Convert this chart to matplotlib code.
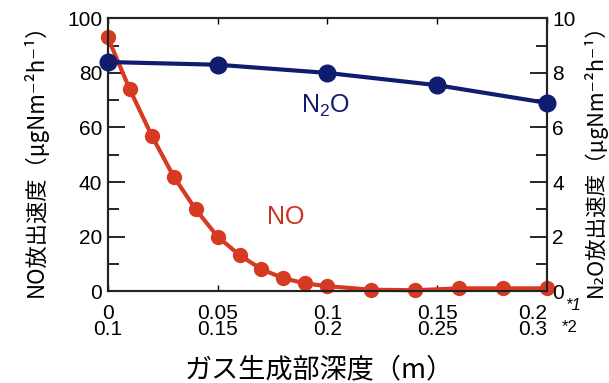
import matplotlib
matplotlib.use('Agg')
import matplotlib.pyplot as plt
from matplotlib.ticker import MultipleLocator
from matplotlib.transforms import ScaledTranslation

plt.rcParams['font.family'] = ['Liberation Sans', 'Noto Sans CJK JP', 'DejaVu Sans']
plt.rcParams['mathtext.fontset'] = 'custom'
plt.rcParams['mathtext.rm'] = 'Liberation Sans'
plt.rcParams['mathtext.it'] = 'Liberation Sans:italic'

# NO emission vs depth (left axis)
no_depth = [0, 0.01, 0.02, 0.03, 0.04, 0.05, 0.06, 0.07, 0.08, 0.09, 0.10,
            0.12, 0.14, 0.16, 0.18, 0.20]
no_rate = [93, 74, 57, 42, 30, 20, 13.2, 8, 4.7, 2.8, 1.8,
           0.5, 0.3, 1.0, 1.0, 1.0]

# N2O emission vs depth (right axis)
n2o_depth = [0, 0.05, 0.10, 0.15, 0.20]
n2o_rate = [8.4, 8.3, 8.0, 7.55, 6.9]

xtick_pos = [0, 0.05, 0.10, 0.15, 0.20]
xtick_labels = ['0\n0.1', '0.05\n0.15', '0.1\n0.2', '0.15\n0.25', '0.2\n0.3']

red = '#d63a22'
navy = '#101c6e'
cjk = ['Noto Sans CJK JP', 'DejaVu Sans']

fig = plt.figure(figsize=(6.09, 3.83), dpi=100)
ax = fig.add_axes([0.177, 0.240, 0.721, 0.712])
ax2 = ax.twinx()

ax.plot(no_depth, no_rate, '-o', color=red, lw=3, ms=10, clip_on=False, zorder=3)
ax2.plot(n2o_depth, n2o_rate, '-o', color=navy, lw=3, ms=12, clip_on=False, zorder=3)

ax.set_xlim(0, 0.2)
ax.set_ylim(0, 100)
ax2.set_ylim(0, 10)

ax.set_xticks(xtick_pos)
ax.set_xticklabels(xtick_labels, fontsize=15, linespacing=0.85)
# last label sits left of its tick, the footnote marks follow it
last = ax.get_xticklabels()[-1]
last.set_horizontalalignment('right')
last.set_transform(last.get_transform() + ScaledTranslation(4 / 72, 0, fig.dpi_scale_trans))

ax.yaxis.set_major_locator(MultipleLocator(20))
ax.yaxis.set_minor_locator(MultipleLocator(10))
ax2.yaxis.set_major_locator(MultipleLocator(2))
ax2.yaxis.set_minor_locator(MultipleLocator(1))

ax.tick_params(axis='y', which='major', direction='in', length=12, width=1.2, labelsize=15, pad=4)
ax.tick_params(axis='y', which='minor', direction='in', length=8, width=1.2)
ax2.tick_params(axis='y', which='major', direction='in', length=12, width=1.2, labelsize=15, pad=4)
ax2.tick_params(axis='y', which='minor', direction='in', length=8, width=1.2)
ax.tick_params(axis='x', direction='in', length=4, width=1.0, top=True, labelsize=15, pad=9)

for a in (ax, ax2):
    for s in a.spines.values():
        s.set_linewidth(1.5)
        s.set_color('#222222')

ax.set_ylabel('NO放出速度（μgNm⁻²h⁻¹）', fontsize=16, family=cjk, labelpad=14)
ax2.set_ylabel('N₂O放出速度（μgNm⁻²h⁻¹）', fontsize=15.5, family=cjk, labelpad=5)
ax.set_xlabel('ガス生成部深度（m）', fontsize=19.5, family=cjk)
ax.xaxis.set_label_coords(0.482, -0.24)

ax.text(0.099, 68, 'N$_2$O', color=navy, fontsize=18, ha='center', va='center')
ax.text(0.081, 27, 'NO', color='#c8341f', fontsize=18, ha='center', va='center')

fig.text(0.928, 0.202, '*1', fontsize=12, style='italic', ha='left', va='center')
fig.text(0.922, 0.144, '*2', fontsize=12, ha='left', va='center')

fig.savefig('out.png', dpi=100)
